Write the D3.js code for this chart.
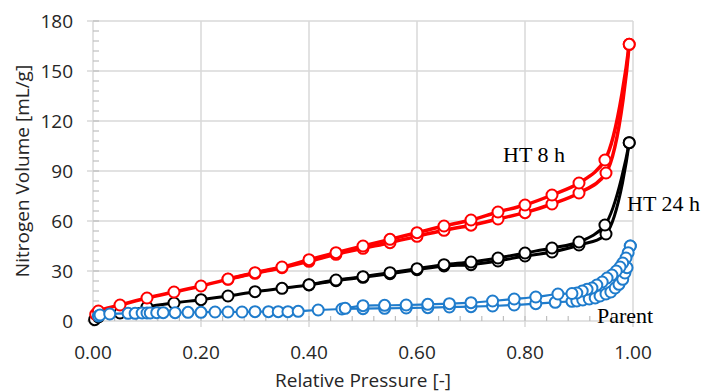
<!DOCTYPE html>
<html>
<head>
<meta charset="utf-8">
<script src="https://cdn.jsdelivr.net/npm/d3@7"></script>
<style>
  body { margin: 0; background: #fff; }
  text { font-family: "Open Sans", sans-serif; fill: #262626; }
  .lbl { font-family: "Liberation Serif", "Times New Roman", serif; fill: #000; }
</style>
</head>
<body>
<svg id="chart"></svg>
<script>
"use strict";

// HT 8 h (red) - adsorption and desorption branches
let ht8AdsX = [0.005, 0.01, 0.05, 0.1, 0.15, 0.2, 0.25, 0.3, 0.35, 0.4, 0.45, 0.5, 0.55, 0.6, 0.65, 0.7, 0.75, 0.8, 0.85, 0.9, 0.95, 0.993];
let ht8AdsY = [4, 6, 9.6, 13.8, 17.4, 21, 25, 28.6, 32, 35.8, 40, 43.6, 47, 50.8, 54.4, 57.5, 61.2, 65, 70.2, 76.8, 88.8, 166];
let ht8DesX = [0.993, 0.948, 0.9, 0.85, 0.8, 0.75, 0.7, 0.65, 0.6, 0.55, 0.5, 0.45, 0.4, 0.35, 0.3, 0.25];
let ht8DesY = [166, 96.6, 82.8, 75.6, 69.6, 65.4, 60.6, 57, 53, 49, 45, 41, 36.8, 32.4, 29, 25.2];

// HT 24 h (black)
let ht24AdsX = [0.003, 0.01, 0.05, 0.1, 0.15, 0.2, 0.25, 0.3, 0.35, 0.4, 0.45, 0.5, 0.55, 0.6, 0.65, 0.7, 0.75, 0.8, 0.85, 0.9, 0.95, 0.993];
let ht24AdsY = [0.8, 2.5, 4.8, 8.4, 10.8, 12.8, 15, 17.6, 19.6, 21.6, 24.2, 26.2, 28.4, 30.8, 33, 33.8, 36, 39, 41.4, 45.6, 52.2, 107];
let ht24DesX = [0.993, 0.948, 0.9, 0.85, 0.8, 0.75, 0.7, 0.65, 0.6, 0.55, 0.5, 0.45, 0.4];
let ht24DesY = [107, 57.6, 47.4, 43.8, 40.8, 37.8, 35.4, 33.8, 31.4, 29, 26.6, 24.6, 21.8];

// Parent (blue)
let parAdsX = [0.01, 0.013, 0.031, 0.065, 0.078, 0.091, 0.1, 0.106, 0.118, 0.13, 0.152, 0.176, 0.2, 0.226, 0.25, 0.276, 0.3, 0.325, 0.343, 0.361, 0.38, 0.417, 0.461,
  0.5, 0.54, 0.58, 0.62, 0.66, 0.7, 0.74, 0.78, 0.82, 0.856, 0.887, 0.896, 0.907, 0.919, 0.93, 0.939, 0.95, 0.959, 0.967, 0.974, 0.981, 0.985, 0.989, 0.995];
let parAdsY = [3, 3.6, 4.2, 4.6, 4.6, 4.8, 4.8, 4.8, 5, 5, 5, 5.2, 5.2, 5.4, 5.4, 5.4, 5.6, 5.6, 5.6, 5.6, 5.8, 6.6, 7.2,
  7.4, 7.6, 7.8, 8, 8.4, 8.6, 9, 9.6, 10.4, 11.2, 11.8, 12, 12.6, 13.2, 13.8, 15, 16.2, 17.4, 19.8, 22, 25, 28.8, 32, 45];
let parDesX = [0.995, 0.991, 0.987, 0.981, 0.976, 0.969, 0.961, 0.952, 0.943, 0.933, 0.924, 0.915, 0.906, 0.896, 0.887, 0.861, 0.82, 0.78, 0.74, 0.7, 0.66, 0.62, 0.58, 0.54, 0.5, 0.467];
let parDesY = [45, 41, 37.8, 34.8, 32.4, 30, 27.6, 25.8, 23.4, 21.6, 19.8, 19, 18, 16.8, 16.5, 16.2, 14.4, 13.2, 12, 11, 10.4, 10, 9.6, 9.4, 9.2, 7.6];

let xTicks = [0, 0.2, 0.4, 0.6, 0.8, 1.0];
let yTicks = [0, 30, 60, 90, 120, 150, 180];

let zip = (xs, ys) => xs.map((x, i) => ({ x: x, y: ys[i] }));

let series = [
  { name: "HT 24 h", color: "#000000", lw: 3, ads: zip(ht24AdsX, ht24AdsY), des: zip(ht24DesX, ht24DesY) },
  { name: "HT 8 h", color: "#ff0000", lw: 3.5, ads: zip(ht8AdsX, ht8AdsY), des: zip(ht8DesX, ht8DesY) },
  { name: "Parent", color: "#1f7ccc", lw: 2.2, ads: zip(parAdsX, parAdsY), des: zip(parDesX, parDesY) },
];

let W = 703, H = 392;
let m = { left: 93, right: 70, top: 21, bottom: 71 };

let svg = d3.select("#chart").attr("width", W).attr("height", H);

let x = d3.scaleLinear().domain([0, 1]).range([m.left, W - m.right]);
let y = d3.scaleLinear().domain([0, 180]).range([H - m.bottom, m.top]);

let grid = "#d9d9d9";

// vertical gridlines (extend below axis as major ticks)
svg.append("g")
  .selectAll("line")
  .data(xTicks)
  .enter()
  .append("line")
  .attr("x1", (d) => x(d)).attr("x2", (d) => x(d))
  .attr("y1", y(180)).attr("y2", y(0) + 6)
  .attr("stroke", grid).attr("stroke-width", 1.5);

// horizontal gridlines
svg.append("g")
  .selectAll("line")
  .data(yTicks)
  .enter()
  .append("line")
  .attr("x1", x(0) - 6).attr("x2", x(1))
  .attr("y1", (d) => y(d)).attr("y2", (d) => y(d))
  .attr("stroke", grid).attr("stroke-width", 1.5);

// minor ticks
let xMinor = d3.range(0, 1.0001, 0.04);
let yMinor = d3.range(0, 180.01, 6);
svg.append("g")
  .selectAll("line")
  .data(xMinor)
  .enter()
  .append("line")
  .attr("x1", (d) => x(d)).attr("x2", (d) => x(d))
  .attr("y1", y(0)).attr("y2", y(0) - 5)
  .attr("stroke", "#bfbfbf").attr("stroke-width", 1.2);
svg.append("g")
  .selectAll("line")
  .data(yMinor)
  .enter()
  .append("line")
  .attr("x1", x(0)).attr("x2", x(0) + 6)
  .attr("y1", (d) => y(d)).attr("y2", (d) => y(d))
  .attr("stroke", "#bfbfbf").attr("stroke-width", 1.2);

// tick labels
svg.append("g")
  .selectAll("text")
  .data(yTicks)
  .enter()
  .append("text")
  .attr("x", x(0) - 20)
  .attr("y", (d) => y(d) + 7)
  .attr("text-anchor", "end")
  .attr("font-size", 19)
  .text((d) => d);

svg.append("g")
  .selectAll("text")
  .data(xTicks)
  .enter()
  .append("text")
  .attr("x", (d) => x(d))
  .attr("y", y(0) + 38)
  .attr("text-anchor", "middle")
  .attr("font-size", 19)
  .text((d) => d3.format(".2f")(d));

// axis titles
svg.append("text")
  .attr("x", (x(0) + x(1)) / 2)
  .attr("y", 387)
  .attr("text-anchor", "middle")
  .attr("font-size", 19)
  .text("Relative Pressure [-]");

svg.append("text")
  .attr("transform", `translate(29, ${(y(0) + y(180)) / 2}) rotate(-90)`)
  .attr("text-anchor", "middle")
  .attr("font-size", 19)
  .text("Nitrogen Volume [mL/g]");

// series
let line = d3.line()
  .x((d) => x(d.x))
  .y((d) => y(d.y))
  .curve(d3.curveCatmullRom.alpha(0.5));

series.forEach((s) => {
  let g = svg.append("g");
  [s.ads, s.des].forEach((pts) => {
    g.append("path")
      .attr("d", line(pts))
      .attr("fill", "none")
      .attr("stroke", s.color)
      .attr("stroke-width", s.lw);
  });
  g.selectAll("circle")
    .data(s.ads.concat(s.des))
    .enter()
    .append("circle")
    .attr("cx", (d) => x(d.x))
    .attr("cy", (d) => y(d.y))
    .attr("r", 5.5)
    .attr("fill", "#fff")
    .attr("stroke", s.color)
    .attr("stroke-width", 2);
});

// series labels
let labels = [
  { text: "HT 8 h", x: 503, y: 162 },
  { text: "HT 24 h", x: 627, y: 211 },
  { text: "Parent", x: 597, y: 323 },
];
svg.selectAll("text.lbl")
  .data(labels)
  .enter()
  .append("text")
  .attr("class", "lbl")
  .attr("x", (d) => d.x)
  .attr("y", (d) => d.y)
  .attr("font-size", 22)
  .text((d) => d.text);
</script>
</body>
</html>
